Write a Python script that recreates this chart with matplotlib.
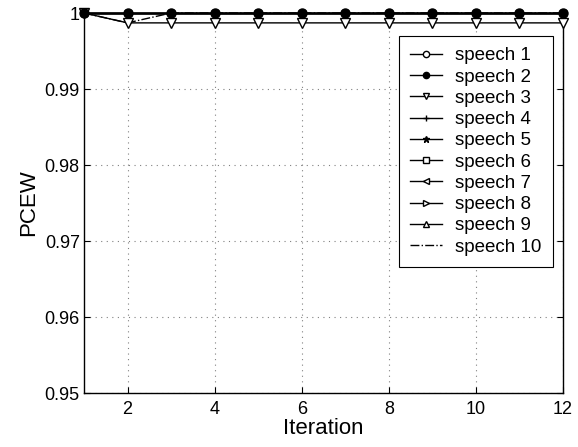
import matplotlib.pyplot as plt
from matplotlib.ticker import FixedLocator, FuncFormatter

plt.rcParams['font.family'] = ['Liberation Sans', 'DejaVu Sans']

iterations = list(range(1, 13))
flat = [1.0] * 12
speech3 = [1.0] + [0.9987] * 11
speech10 = [1.0, 0.9987] + [1.0] * 10

series = {
    'speech 1': flat,
    'speech 2': flat,
    'speech 3': speech3,
    'speech 4': flat,
    'speech 5': flat,
    'speech 6': flat,
    'speech 7': flat,
    'speech 8': flat,
    'speech 9': flat,
    'speech 10': speech10,
}

styles = {
    'speech 1': dict(marker='o', mfc='white', ms=5, ls='-'),
    'speech 2': dict(marker='o', mfc='black', ms=6.5, ls='-', zorder=5),
    'speech 3': dict(marker='v', mfc='white', ms=6.5, ls='-', zorder=4),
    'speech 4': dict(marker='+', ms=6, ls='-'),
    'speech 5': dict(marker='*', ms=6, ls='-'),
    'speech 6': dict(marker='s', mfc='white', ms=5, ls='-'),
    'speech 7': dict(marker='<', mfc='white', ms=5, ls='-'),
    'speech 8': dict(marker='>', mfc='white', ms=5, ls='-'),
    'speech 9': dict(marker='^', mfc='white', ms=5, ls='-'),
    'speech 10': dict(marker='None', ls='-.'),
}

fig = plt.figure(figsize=(5.78, 4.47), dpi=100)
# axes box: x 84..563 px, y 13..393 px
ax = fig.add_axes([84 / 578, 54 / 447, 479 / 578, 380 / 447])

for name, vals in series.items():
    ax.plot(iterations, vals, color='black', lw=1, mec='black', label=name,
            clip_on=False, **styles[name])

ax.set_xlim(1, 12)
ax.set_ylim(0.95, 1.0)
ax.xaxis.set_major_locator(FixedLocator([2, 4, 6, 8, 10, 12]))
ax.yaxis.set_major_locator(FixedLocator([0.95, 0.96, 0.97, 0.98, 0.99, 1.0]))
ax.yaxis.set_major_formatter(FuncFormatter(lambda v, p: '1' if abs(v - 1) < 1e-9 else f'{v:.2f}'))
ax.tick_params(direction='in', labelsize=13, length=4, top=True, right=True)
ax.tick_params(axis='x', pad=6)
ax.tick_params(axis='y', pad=3)
ax.grid(True, ls=(0, (1, 4)), color='gray', lw=0.8)
ax.set_xlabel('Iteration', fontsize=16, labelpad=0)
ax.set_ylabel('PCEW', fontsize=16, labelpad=4)
for s in ax.spines.values():
    s.set_linewidth(1)

leg = ax.legend(loc='upper right', bbox_to_anchor=(553 / 578, 1 - 36 / 447),
                bbox_transform=fig.transFigure, borderaxespad=0, fontsize=13.5,
                fancybox=False, edgecolor='black', framealpha=1,
                handlelength=1.7, labelspacing=0.22, borderpad=0.6, handletextpad=0.7)
leg.get_frame().set_linewidth(0.8)
for h in leg.legend_handles:
    h.set_markersize(4.5)

fig.savefig('out.png', dpi=100)
